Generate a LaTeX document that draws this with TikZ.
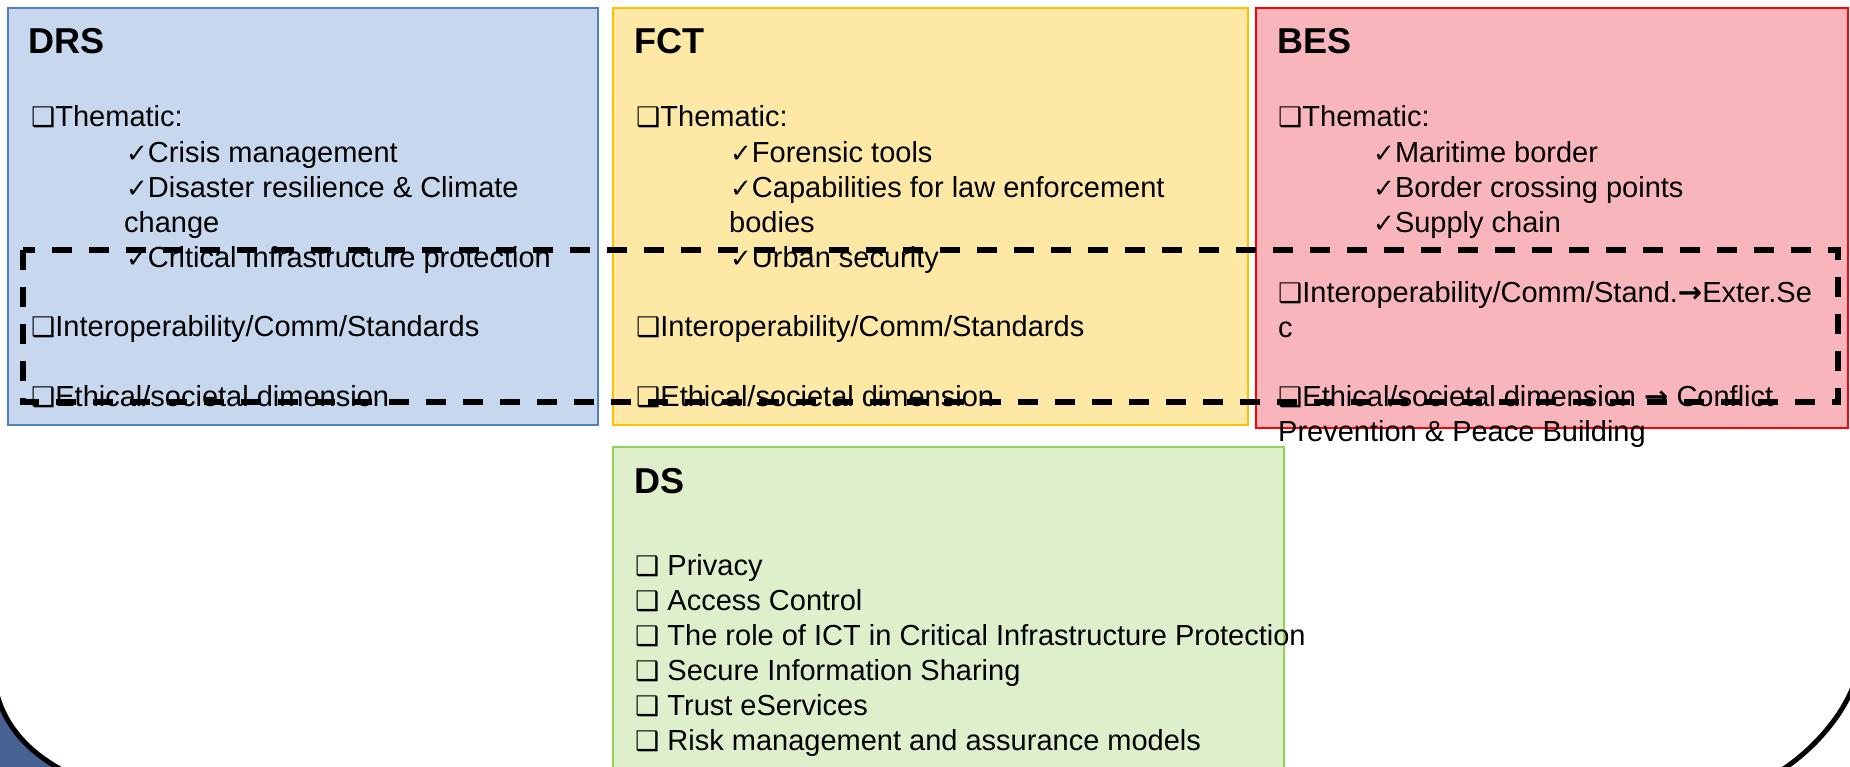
\documentclass[tikz,border=0pt]{standalone}
\usepackage{fontspec}
\setmainfont{Liberation Sans}
\newfontfamily\symfont{DejaVu Sans}
\usepackage{tikz}
\definecolor{drsfill}{RGB}{199,215,238}
\definecolor{drsline}{RGB}{79,129,189}
\definecolor{fctfill}{RGB}{253,233,165}
\definecolor{fctline}{RGB}{255,192,0}
\definecolor{besfill}{RGB}{248,182,188}
\definecolor{besline}{RGB}{255,0,0}
\definecolor{dsfill}{RGB}{222,239,203}
\definecolor{dsline}{RGB}{146,208,80}
\definecolor{cornerblue}{RGB}{70,97,146}
\tikzset{txt/.style = {anchor = base west, inner sep = 0, font = \fontsize{29}{35}\selectfont}}
\tikzset{ttl/.style = {anchor = base west, inner sep = 0, font = \fontsize{36}{40}\selectfont\bfseries}}
\tikzset{panel/.style = {line width = 2}}
\tikzset{frame/.style = {line width = 5.5, dash pattern = on 20 off 17}}
\tikzset{rim/.style = {line width = 5}}
\newcommand{\boxmark}{{\symfont\fontsize{27}{35}\selectfont ❑}}
\newcommand{\tickmark}{{\symfont\fontsize{26}{35}\selectfont ✓}}
\newcommand{\rarrow}{{\symfont\bfseries →}}

\begin{document}
\begin{tikzpicture}[x = 1pt, y = -1pt]
    \useasboundingbox (0, 0) rectangle (1850, 766);
    \clip (0, 0) rectangle (1850, 766);

    \draw [panel, draw = drsline, fill = drsfill] (8, 8) rectangle (598, 425);
    \draw [panel, draw = fctline, fill = fctfill] (613, 8) rectangle (1248, 425);
    \draw [panel, draw = besline, fill = besfill] (1256, 8) rectangle (1848, 428);
    \draw [panel, draw = dsline, fill = dsfill] (613, 447) rectangle (1284, 800);

    \node [ttl] (drs) at (28, 53) {DRS};
    \node [txt] (drs-th) at (31, 126) {\boxmark Thematic:};
    \node [txt] (drs-a) at (126, 162) {\tickmark Crisis management};
    \node [txt] (drs-b) at (126, 197) {\tickmark Disaster resilience \& Climate};
    \node [txt] (drs-b2) at (124, 232) {change};
    \node [txt] (drs-c) at (126, 267) {\tickmark Critical Infrastructure protection};
    \node [txt] (drs-io) at (31, 336) {\boxmark Interoperability/Comm/Standards};
    \node [txt] (drs-et) at (31, 406) {\boxmark Ethical/societal dimension};

    \node [ttl] (fct) at (634, 53) {FCT};
    \node [txt] (fct-th) at (636, 126) {\boxmark Thematic:};
    \node [txt] (fct-a) at (730, 162) {\tickmark Forensic tools};
    \node [txt] (fct-b) at (730, 197) {\tickmark Capabilities for law enforcement};
    \node [txt] (fct-b2) at (729, 232) {bodies};
    \node [txt] (fct-c) at (730, 267) {\tickmark Urban security};
    \node [txt] (fct-io) at (636, 336) {\boxmark Interoperability/Comm/Standards};
    \node [txt] (fct-et) at (636, 406) {\boxmark Ethical/societal dimension};

    \node [ttl] (bes) at (1277, 53) {BES};
    \node [txt] (bes-th) at (1278, 126) {\boxmark Thematic:};
    \node [txt] (bes-a) at (1373, 162) {\tickmark Maritime border};
    \node [txt] (bes-b) at (1373, 197) {\tickmark Border crossing points};
    \node [txt] (bes-c) at (1373, 232) {\tickmark Supply chain};
    \node [txt] (bes-io) at (1278, 302) {\boxmark Interoperability/Comm/Stand.\rarrow Exter.Se};
    \node [txt] (bes-io2) at (1278, 337) {c};
    \node [txt] (bes-et) at (1278, 406) {\boxmark Ethical/societal dimension \rarrow\ Conflict};
    \node [txt] (bes-et2) at (1278, 441) {Prevention \& Peace Building};

    \node [ttl] (ds) at (634, 493) {DS};
    \node [txt] (ds-a) at (635, 575) {\boxmark\ Privacy};
    \node [txt] (ds-b) at (635, 610) {\boxmark\ Access Control};
    \node [txt] (ds-c) at (635, 645) {\boxmark\ The role of ICT in Critical Infrastructure Protection};
    \node [txt] (ds-d) at (635, 680) {\boxmark\ Secure Information Sharing};
    \node [txt] (ds-e) at (635, 715) {\boxmark\ Trust eServices};
    \node [txt] (ds-f) at (635, 750) {\boxmark\ Risk management and assurance models};

    \draw [frame] (23, 250) rectangle (1838, 402);

    \fill [cornerblue] (-4, 690) .. controls (3, 722) and (25, 750) .. (62, 770) -- (-4, 770) -- cycle;
    \draw [rim] (-4, 690) .. controls (3, 722) and (25, 750) .. (62, 770);
    \draw [rim] (1854, 684) .. controls (1843, 715) and (1815, 748) .. (1782, 770);
\end{tikzpicture}
\end{document}
